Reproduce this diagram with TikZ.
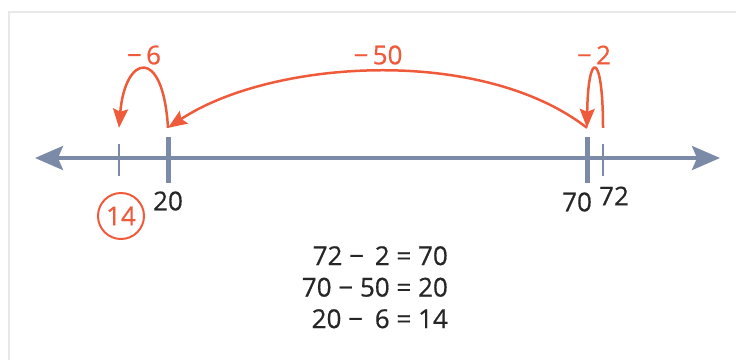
\documentclass[tikz,border=0pt]{standalone}
\usepackage{fontspec}
\setmainfont{Open Sans}[FakeBold=0.6]
\usetikzlibrary{arrows.meta,positioning}
\definecolor{lineblue}{HTML}{7B8BA7}
\definecolor{jumporange}{HTML}{EF5B3A}
\definecolor{framegray}{HTML}{E8E8E8}

\begin{document}
\begin{tikzpicture}[x=1pt,y=-1pt,>=Latex,
  font=\fontsize{26}{31.5}\selectfont,
  axis/.style={draw=lineblue,line width=3.5pt,{Stealth[length=28pt,width=24pt,inset=5pt]}-{Stealth[length=28pt,width=24pt,inset=5pt]}},
  smalltick/.style={fill=lineblue,inner sep=0pt,minimum width=2pt,minimum height=32pt},
  bigtick/.style={fill=lineblue,inner sep=0pt,minimum width=5pt,minimum height=46pt},
  jump/.style={draw=jumporange,line width=2.5pt,-{Stealth[length=19pt,width=15pt,inset=3pt]}},
  jumplabel/.style={text=jumporange,inner sep=0pt},
  numlabel/.style={text=black!85,inner sep=0pt}]
\useasboundingbox (0,0) rectangle (736,360);
\draw[framegray,line width=2pt] (9,360) -- (9,12) -- (736,12);

% number line
\coordinate (left) at (35,158);
\coordinate (right) at (720,158);
\draw[axis] (left) -- (right);

\node[smalltick] (p14) at (119,160) {};
\node[bigtick] (p20) at (168,160) {};
\node[bigtick] (p70) at (587,160) {};
\node[smalltick] (p72) at (603,160) {};

\coordinate[above=16pt of p14.north] (a14);
\coordinate[above=9pt of p20.north] (a20);
\coordinate[above=9pt of p70.north] (a70);
\coordinate[above=16pt of p72.north] (a72);

% values
\node[draw=jumporange,circle,line width=2pt,minimum size=46pt,inner sep=0pt,text=jumporange] (n14) at (121,216) {14};
\node[numlabel] (n20) at (168,201) {20};
\node[numlabel] (n70) at (577,202) {70};
\node[numlabel] (n72) at (614,196) {72};

% jumps
\draw[jump] (a72) .. controls (603,50) and (588,50) .. (a70);
\draw[jump] (a70) .. controls (480,45) and (270,60) .. (a20);
\draw[jump] (a20) .. controls (163,45) and (125,55) .. (a14);
\node[jumplabel] (m2) at (594,55) {−\,2};
\node[jumplabel] (m50) at (378,55) {−\,50};
\node[jumplabel] (m6) at (144,55) {−\,6};

% equations
\node[numlabel,align=right,anchor=north east] (eqs) at (448,246)
  {72 −\hspace{4pt} 2 = 70\\70 − 50 = 20\\20 −\hspace{5pt} 6 = 14};
\end{tikzpicture}
\end{document}
